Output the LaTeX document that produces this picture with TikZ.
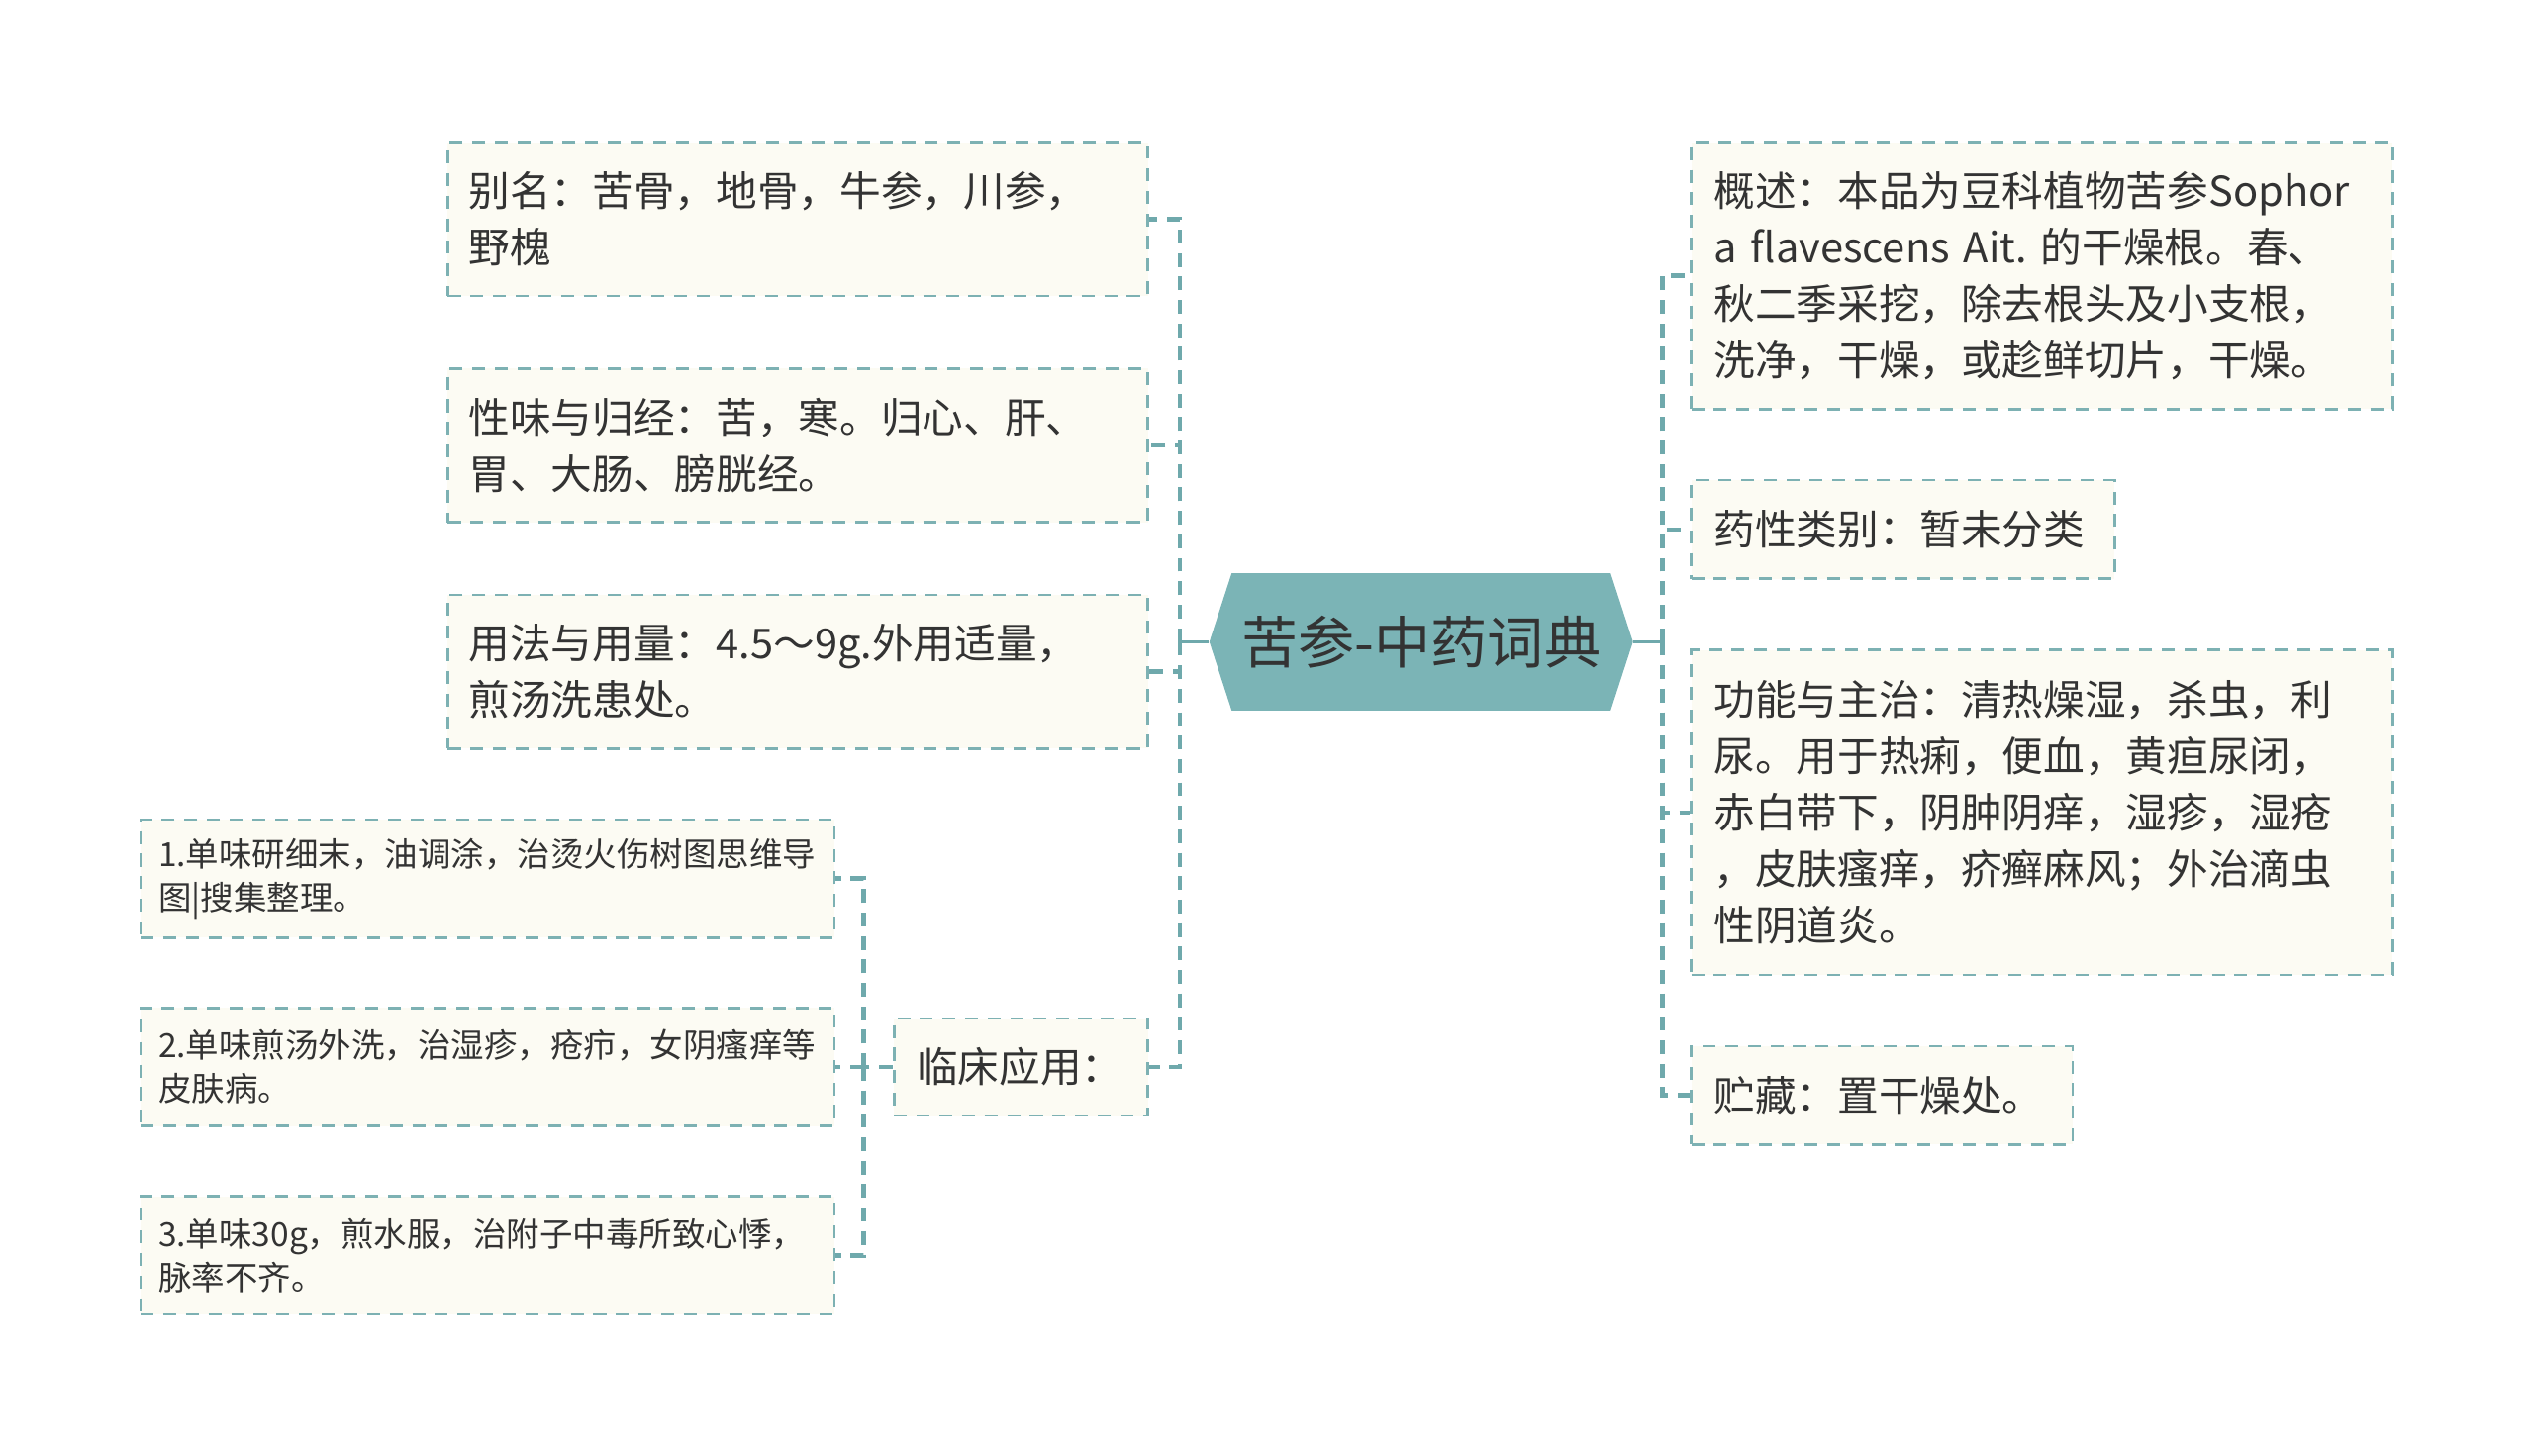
\documentclass[tikz,border=0pt]{standalone}
\usepackage{fontspec}
\setmainfont{Noto Sans CJK SC}
\usetikzlibrary{shapes.symbols,positioning}
\definecolor{linkteal}{HTML}{6FA9AC}
\definecolor{edgeteal}{HTML}{7DB1B3}
\definecolor{rootteal}{HTML}{7BB4B6}
\definecolor{leafbg}{HTML}{FCFBF3}
\definecolor{inkgrey}{HTML}{333333}
\newcommand\leaffont{\fontsize{25.5pt}{35pt}\selectfont}
\newcommand\subfont{\fontsize{20.5pt}{27pt}\selectfont}
\newcommand\rootfont{\fontsize{35pt}{40pt}\selectfont}
\tikzstyle{leaf}=[draw=edgeteal,fill=leafbg,line width=1.6pt,dash pattern=on 8pt off 6pt,text=inkgrey,align=left,inner xsep=13pt,inner ysep=0pt,font=\leaffont]
\tikzstyle{rleaf}=[leaf,inner xsep=14pt]
\tikzstyle{subleaf}=[leaf,inner xsep=11pt,font=\subfont]
\tikzstyle{link}=[draw=linkteal,line width=2.8pt,dash pattern=on 8.5pt off 6pt]
\tikzstyle{trunk}=[draw=linkteal,line width=1.8pt]

\begin{document}
\begin{tikzpicture}[x=1pt,y=1pt]
	\useasboundingbox (0,0) rectangle (1567.3,-900);
	\node[signal, signal to=west and east, signal pointer angle=144, fill=rootteal, text=inkgrey, font=\rootfont, minimum width=262pt, minimum height=85pt] (root) at (879,-397) {苦参-中药词典};
	
	% left side
	\node[leaf, text width=407pt, minimum height=95pt] (bm) at (493.5,-135.5) {别名：苦骨，地骨，牛参，川参，\\野槐};
	\node[leaf, text width=407pt, minimum height=95pt, node distance=140pt, below of=bm] (xw) {性味与归经：苦，寒。归心、肝、\\胃、大肠、膀胱经。};
	\node[leaf, text width=407pt, minimum height=95pt, node distance=140pt, below of=xw] (yf) {用法与用量：4.5～9g.外用适量，\\煎汤洗患处。};
	\node[rleaf, text width=129pt, minimum height=60pt] (lc) at (631.5,-660) {临床应用：};
	
	\node[subleaf, text width=407pt, minimum height=73pt] (s1) at (301.5,-543.5) {1.单味研细末，油调涂，治烫火伤树图思维导\\图|搜集整理。};
	\node[subleaf, text width=407pt, minimum height=73pt, node distance=116.5pt, below of=s1] (s2) {2.单味煎汤外洗，治湿疹，疮疖，女阴瘙痒等\\皮肤病。};
	\node[subleaf, text width=407pt, minimum height=73pt, node distance=116.5pt, below of=s2] (s3) {3.单味30g，煎水服，治附子中毒所致心悸，\\脉率不齐。};
	
	% right side
	\node[rleaf, text width=406pt, minimum height=165pt] (gs) at (1263,-170.5) {概述：本品为豆科植物苦参Sophor\\a~flavescens~Ait.~的干燥根。春、\\秋二季采挖，除去根头及小支根，\\洗净，干燥，或趁鲜切片，干燥。};
	\node[rleaf, text width=234pt, minimum height=61pt] (yx) at (1177,-327.5) {药性类别：暂未分类};
	\node[rleaf, text width=406pt, minimum height=201pt] (gn) at (1263,-502.5) {功能与主治：清热燥湿，杀虫，利\\尿。用于热痢，便血，黄疸尿闭，\\赤白带下，阴肿阴痒，湿疹，湿疮\\，皮肤瘙痒，疥癣麻风；外治滴虫\\性阴道炎。};
	\node[rleaf, text width=208pt, minimum height=61pt] (zc) at (1164,-677.5) {贮藏：置干燥处。};
	
	% connectors
	\coordinate (lt) at ([xshift=-18pt]root.west);
	\draw[trunk] (root.west) -- (lt);
	\foreach \n in {bm,xw,yf,lc} \draw[link] (lt) |- (\n.east);
	\coordinate (rt) at ([xshift=18pt]root.east);
	\draw[trunk] (root.east) -- (rt);
	\foreach \n in {gs,yx,gn,zc} \draw[link] (rt) |- (\n.west);
	\coordinate (st) at ([xshift=-18pt]lc.west);
	\draw[link] (lc.west) -- (st);
	\foreach \n in {s1,s2,s3} \draw[link] (st) |- (\n.east);
\end{tikzpicture}
\end{document}
